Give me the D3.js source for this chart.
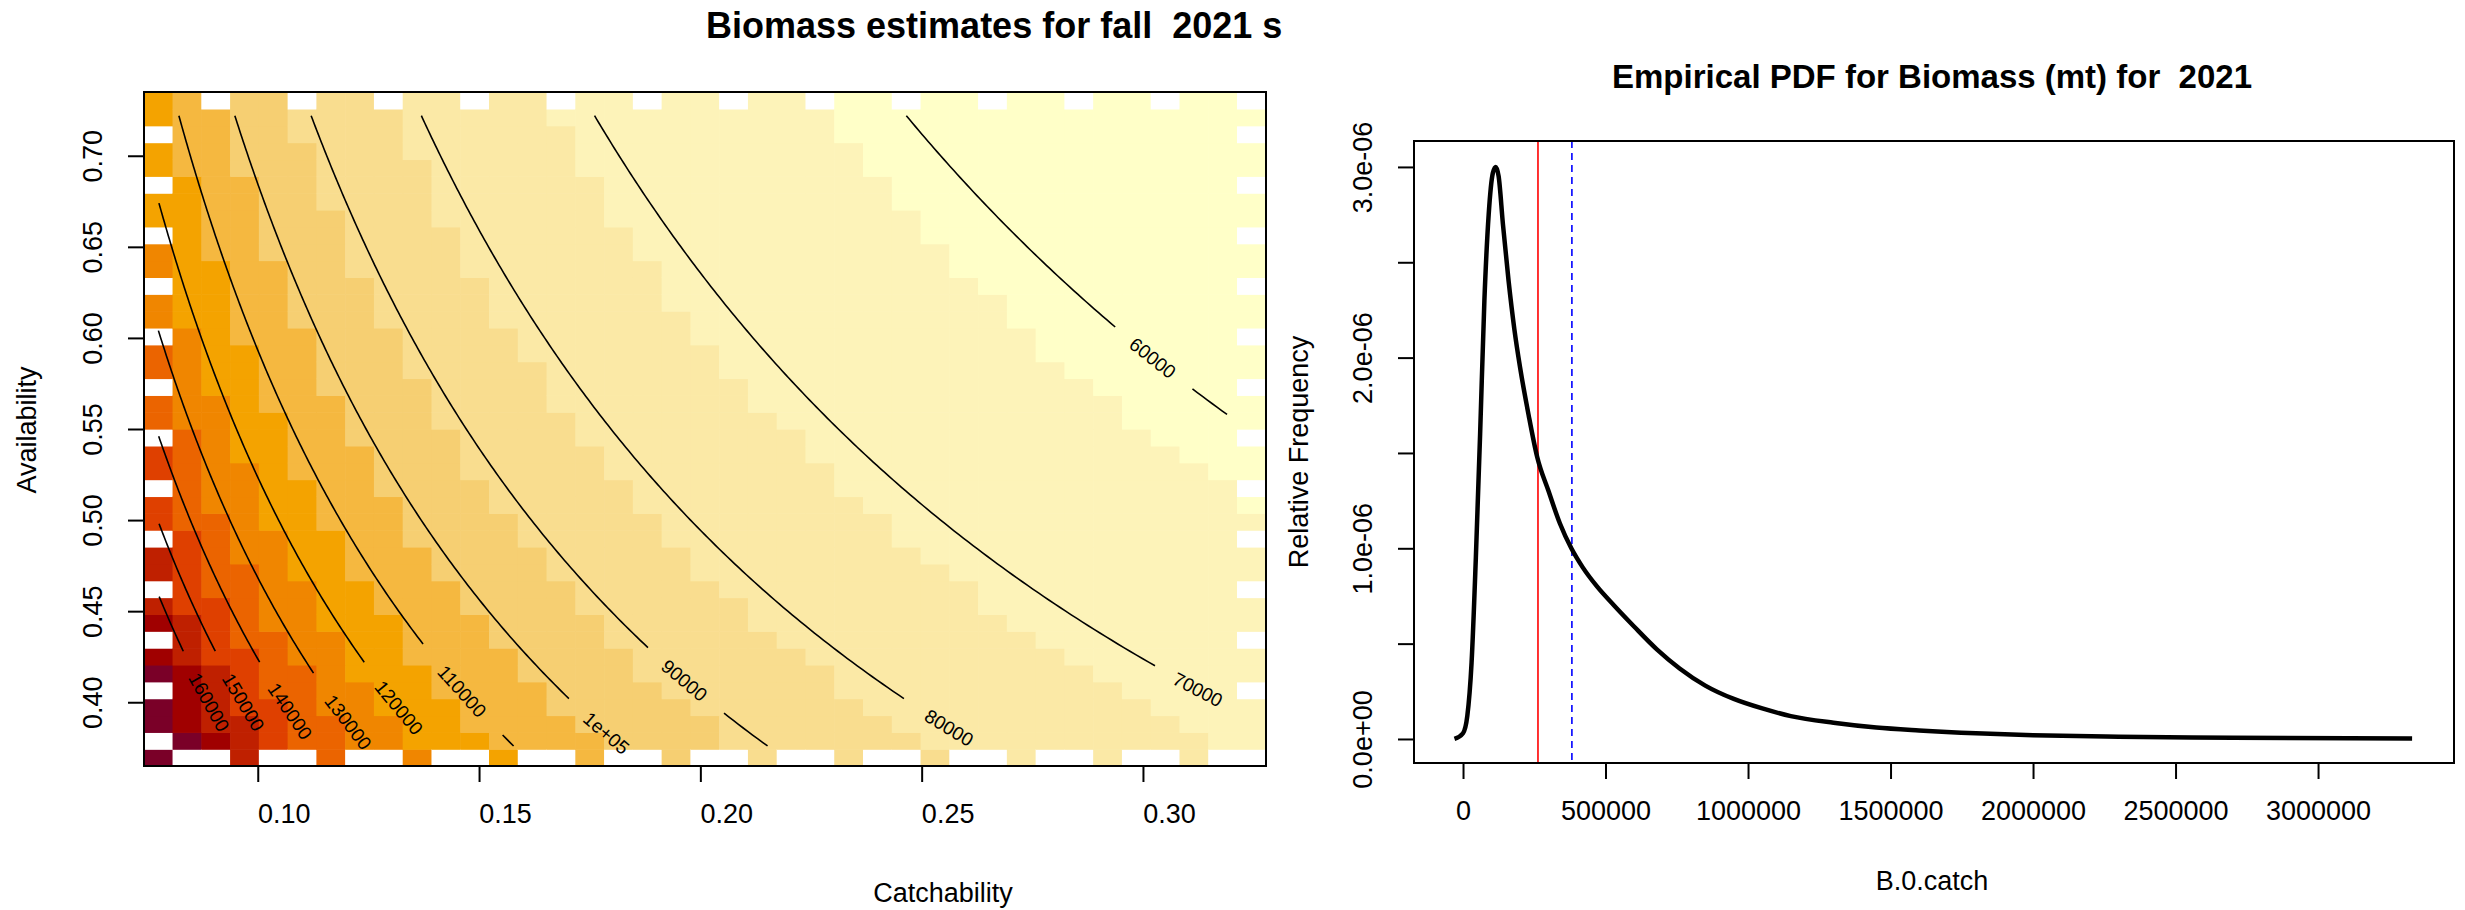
<!DOCTYPE html>
<html><head><meta charset="utf-8">
<script src="https://cdn.jsdelivr.net/npm/d3@7"></script>
<style>body{margin:0;background:#fff}text{font-family:"Liberation Sans",Arial,sans-serif;white-space:pre}</style>
</head><body><svg id="c" width="2465" height="910"></svg>
<script>
// contour panel: surface B = base + C / (q * a), constants
var surfBase = 35000, surfC = 4450;
var qCells = d3.range(39).map(function(i) { return 0.0775 + 0.0065 * i; });
var aCells = d3.range(40).map(function(j) { return 0.3696 + 0.00925 * j; });
var colorBreaks = [62000, 72000, 82000, 92000, 102000, 112000, 122000, 132000, 142000, 152000, 162000, 172000];
var cellColors = ["#ffffc8", "#fdf3b9", "#fbe9a6", "#f9dd8f", "#f6cf72", "#f5b840", "#f4a300", "#f08600",
                  "#eb6400", "#df4000", "#bf2000", "#a00000", "#7a0028"];
var contourLevels = [60000, 70000, 80000, 90000, 100000, 110000, 120000, 130000, 140000, 150000, 160000];
var contourText = ["60000", "70000", "80000", "90000", "1e+05", "110000", "120000", "130000", "140000", "150000", "160000"];
var labelAvail = [0.589, 0.407, 0.386, 0.412, 0.383, 0.406, 0.397, 0.389, 0.395, 0.40, 0.40];
var qTicks = [0.10, 0.15, 0.20, 0.25, 0.30];
var aTicks = [0.40, 0.45, 0.50, 0.55, 0.60, 0.65, 0.70];

// density panel
var bioX = [-30000, 0, 15000, 30000, 45000, 60000, 75000, 90000, 105000, 115000, 125000, 140000, 160000, 180000,
            200000, 230000, 260000, 300000, 340000, 380000, 420000, 470000, 530000, 600000, 680000, 760000, 850000,
            950000, 1050000, 1150000, 1300000, 1450000, 1600000, 1800000, 2000000, 2300000, 2700000, 3330000];
var bioD = [0, 0.03, 0.12, 0.4, 0.95, 1.6, 2.3, 2.75, 2.97, 3.0, 2.95, 2.7, 2.4, 2.15,
            1.95, 1.7, 1.48, 1.3, 1.13, 1.0, 0.9, 0.8, 0.7, 0.59, 0.47, 0.37, 0.28,
            0.21, 0.16, 0.12, 0.085, 0.06, 0.045, 0.03, 0.02, 0.012, 0.006, 0.002];
var medianLine = 263000, meanLine = 382000;
var bTicks = [0, 500000, 1000000, 1500000, 2000000, 2500000, 3000000];
var dTicks = [0, 0.5, 1, 1.5, 2, 2.5, 3];
var dTickLabels = {0: "0.0e+00", 1: "1.0e-06", 2: "2.0e-06", 3: "3.0e-06"};

var svg = d3.select("#c");
function surf(q, a) { return surfBase + surfC / (q * a); }
function qAt(lev, a) { return surfC / (a * (lev - surfBase)); }

// ---------- left panel ----------
var L = {l: 144, r: 1266, t: 92, b: 766};
var x = d3.scaleLinear().domain([0.0743, 0.3278]).range([L.l, L.r]);
var y = d3.scaleLinear().domain([0.365, 0.735]).range([L.b, L.t]);
var col = d3.scaleThreshold().domain(colorBreaks).range(cellColors);
var cw = x(0.0065) - x(0), ch = y(0) - y(0.00925);

svg.append("text").attr("x", 706).attr("y", 38)
  .attr("font-size", 36).attr("font-weight", "bold").text("Biomass estimates for fall  2021 survey");

var cells = svg.append("g");
qCells.forEach(function(q, i) {
  aCells.forEach(function(a, j) {
    var white = (i === 0 && j % 3 === 1) || (j === 39 && i % 3 === 2) ||
                (j === 0 && i % 3 !== 0) || (i === 38 && j % 3 === 1 && j > 2);
    cells.append("rect").attr("x", x(q) - cw / 2).attr("y", y(a) - ch / 2)
      .attr("width", cw + 0.6).attr("height", ch + 0.6)
      .attr("fill", white ? "#fff" : col(surf(q, a)));
  });
});

// contour lines, solved along availability, with a gap for each label
var aLine = d3.range(0.376, 0.7225, 0.002);
var lineGen = d3.line().x(function(d) { return x(d[0]); }).y(function(d) { return y(d[1]); });
contourLevels.forEach(function(lev, k) {
  var pts = aLine.map(function(a) { return [qAt(lev, a), a]; })
    .filter(function(p) { return p[0] >= 0.0775 && p[0] <= 0.32; });
  var la = labelAvail[k], lq = qAt(lev, la);
  var px = x(lq), py = y(la);
  var gap = contourText[k].length * 8.5 + 6;
  var segA = pts.filter(function(p) { return Math.hypot(x(p[0]) - px, y(p[1]) - py) > gap && p[1] > la; });
  var segB = pts.filter(function(p) { return Math.hypot(x(p[0]) - px, y(p[1]) - py) > gap && p[1] < la; });
  [segA, segB].forEach(function(s) {
    if (s.length > 1) svg.append("path").attr("d", lineGen(s)).attr("fill", "none")
      .attr("stroke", "#000").attr("stroke-width", 1.6);
  });
  var ang = Math.atan2(y(la - 0.01) - py, x(qAt(lev, la - 0.01)) - px) * 180 / Math.PI;
  svg.append("text").attr("transform", "translate(" + px + "," + py + ") rotate(" + ang + ")")
    .attr("text-anchor", "middle").attr("dy", "0.35em").attr("font-size", 19).text(contourText[k]);
});

svg.append("rect").attr("x", L.l).attr("y", L.t).attr("width", L.r - L.l).attr("height", L.b - L.t)
  .attr("fill", "none").attr("stroke", "#000").attr("stroke-width", 2);

var xAxis = svg.append("g").attr("transform", "translate(0," + L.b + ")")
  .call(d3.axisBottom(x).tickValues(qTicks).tickFormat(d3.format(".2f")).tickSize(16).tickPadding(22));
xAxis.select(".domain").remove();
xAxis.selectAll("text").attr("font-size", 27).attr("dx", 26).attr("font-family", "Liberation Sans");
xAxis.selectAll("line").attr("stroke-width", 2);
var yAxis = svg.append("g").attr("transform", "translate(" + L.l + ",0)")
  .call(d3.axisLeft(y).tickValues(aTicks).tickFormat(d3.format(".2f")).tickSize(16));
yAxis.select(".domain").remove();
yAxis.selectAll("line").attr("stroke-width", 2);
yAxis.selectAll("text").attr("font-size", 27).attr("font-family", "Liberation Sans")
  .attr("x", 0).attr("dy", 0).attr("text-anchor", "middle")
  .attr("transform", "translate(-42,0) rotate(-90)");
svg.append("text").attr("x", 943).attr("y", 902).attr("text-anchor", "middle").attr("font-size", 27).text("Catchability");
svg.append("text").attr("transform", "translate(36,430) rotate(-90)").attr("text-anchor", "middle")
  .attr("font-size", 27).text("Availability");

// ---------- right panel ----------
svg.append("rect").attr("x", 1282).attr("y", 0).attr("width", 1183).attr("height", 910).attr("fill", "#fff");
var R = {l: 1414, r: 2454, t: 141, b: 763};
var x2 = d3.scaleLinear().domain([-172000, 3477000]).range([R.l, R.r]);
var y2 = d3.scaleLinear().domain([-0.126, 3.136]).range([R.b, R.t]);

svg.append("text").attr("x", 1932).attr("y", 88).attr("text-anchor", "middle")
  .attr("font-size", 33).attr("font-weight", "bold").text("Empirical PDF for Biomass (mt) for  2021");

svg.append("line").attr("x1", x2(medianLine)).attr("x2", x2(medianLine)).attr("y1", R.t).attr("y2", R.b)
  .attr("stroke", "#ff0000").attr("stroke-width", 1.6);
svg.append("line").attr("x1", x2(meanLine)).attr("x2", x2(meanLine)).attr("y1", R.t).attr("y2", R.b)
  .attr("stroke", "#0000ff").attr("stroke-width", 1.6).attr("stroke-dasharray", "7,5");
svg.append("path").datum(bioX.map(function(v, i) { return [v, bioD[i]]; }))
  .attr("d", d3.line().x(function(d) { return x2(d[0]); }).y(function(d) { return y2(d[1]); }).curve(d3.curveMonotoneX))
  .attr("fill", "none").attr("stroke", "#000").attr("stroke-width", 4.5);

svg.append("rect").attr("x", R.l).attr("y", R.t).attr("width", R.r - R.l).attr("height", R.b - R.t)
  .attr("fill", "none").attr("stroke", "#000").attr("stroke-width", 2);
var xAxis2 = svg.append("g").attr("transform", "translate(0," + R.b + ")")
  .call(d3.axisBottom(x2).tickValues(bTicks).tickFormat(d3.format("d")).tickSize(16).tickPadding(22));
xAxis2.select(".domain").remove();
xAxis2.selectAll("line").attr("stroke-width", 2);
xAxis2.selectAll("text").attr("font-size", 27).attr("font-family", "Liberation Sans");
var yAxis2 = svg.append("g").attr("transform", "translate(" + R.l + ",0)")
  .call(d3.axisLeft(y2).tickValues(dTicks).tickFormat(function(d) { return dTickLabels[d] || ""; }).tickSize(16));
yAxis2.select(".domain").remove();
yAxis2.selectAll("line").attr("stroke-width", 2);
yAxis2.selectAll("text").attr("font-size", 27).attr("font-family", "Liberation Sans")
  .attr("x", 0).attr("dy", 0).attr("text-anchor", "middle")
  .attr("transform", "translate(-42,0) rotate(-90)");
svg.append("text").attr("x", 1932).attr("y", 890).attr("text-anchor", "middle").attr("font-size", 27).text("B.0.catch");
svg.append("text").attr("transform", "translate(1308,452) rotate(-90)").attr("text-anchor", "middle")
  .attr("font-size", 27).text("Relative Frequency");
</script></body></html>
